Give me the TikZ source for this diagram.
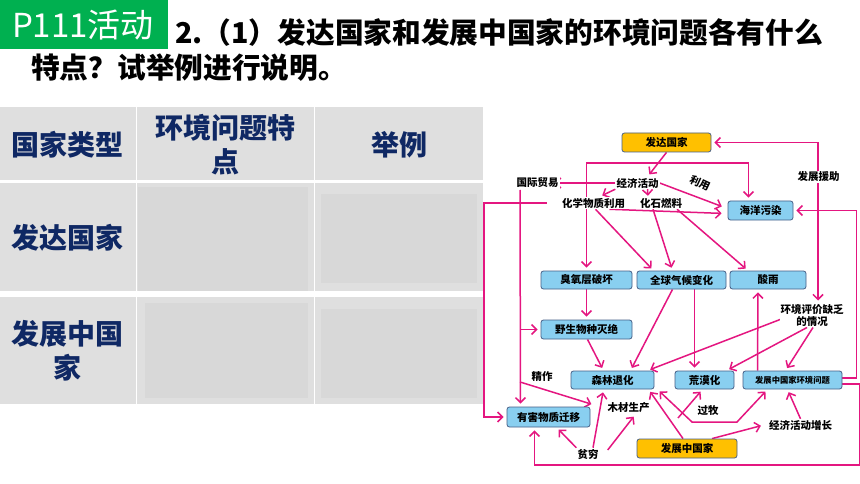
\documentclass[tikz,border=0pt]{standalone}
\usepackage{fontspec}
\setmainfont{Noto Sans CJK SC}
\newfontfamily\cjk{Noto Sans CJK SC}
\usetikzlibrary{arrows.meta,backgrounds}
\definecolor{hdrgreen}{RGB}{0,176,80}
\definecolor{cellgray}{RGB}{223,223,223}
\definecolor{innergray}{RGB}{216,216,216}
\definecolor{navy}{RGB}{15,40,100}
\definecolor{pinkc}{RGB}{228,22,128}
\definecolor{boxblue}{RGB}{137,207,240}
\definecolor{boxline}{RGB}{70,95,135}
\definecolor{orangec}{RGB}{255,192,0}
\newcommand{\dgfont}{\cjk\bfseries\fontsize{10.5}{11.5}\selectfont}
\begin{document}
\begin{tikzpicture}[x=1pt,y=-1pt,
  box/.style={draw=boxline, fill=boxblue, rounded corners=2.5pt, line width=0.8pt, font=\dgfont, inner sep=0pt},
  obox/.style={box, fill=orangec},
  lbl/.style={font=\dgfont, inner sep=1pt, fill=white},
  con/.style={draw=pinkc, line width=1.5pt, shorten >=3pt, -{Straight Barb[length=5pt,width=10pt]}},
  con2/.style={draw=pinkc, line width=1.5pt, shorten >=3pt, shorten <=3pt, {Straight Barb[length=5pt,width=10pt]}-{Straight Barb[length=5pt,width=10pt]}},
  tt/.style={font=\cjk\bfseries\fontsize{28}{34}\selectfont, text=navy, inner sep=0pt, align=center}
]
\path[use as bounding box] (0,0) rectangle (860,484);

\begin{pgfonlayer}{background}
\fill[white] (0,0) rectangle (860,484);
% header
\fill[hdrgreen] (0,0) rectangle (168,49);
% table
\fill[cellgray] (0,107) rectangle (136,180);
\fill[cellgray] (137,107) rectangle (314,180);
\fill[cellgray] (315,107) rectangle (483,180);
\fill[cellgray] (0,183) rectangle (136,291);
\fill[cellgray] (137,183) rectangle (314,291);
\fill[cellgray] (315,183) rectangle (483,291);
\fill[cellgray] (0,297) rectangle (136,404);
\fill[cellgray] (137,297) rectangle (314,404);
\fill[cellgray] (315,297) rectangle (483,404);
\fill[innergray] (138,187) rectangle (308,291);
\fill[innergray] (321,194) rectangle (477,283);
\fill[innergray] (145,303) rectangle (308,398);
\fill[innergray] (321,309) rectangle (477,398);
\end{pgfonlayer}

\node[font=\cjk\fontsize{33}{36}\selectfont, text=white, inner sep=0pt] (p111) at (83,25) {P111活动};
\node[anchor=west, font=\cjk\bfseries\fontsize{28.7}{34}\selectfont, inner sep=0pt] (q1) at (175,33) {2.（1）发达国家和发展中国家的环境问题各有什么};
\node[anchor=west, font=\cjk\bfseries\fontsize{28.7}{34}\selectfont, inner sep=0pt] (q2) at (31,68) {特点？试举例进行说明。};

\node[tt] (t11) at (68,145) {国家类型};
\node[tt] (t12) at (225.5,145) {环境问题特\\点};
\node[tt] (t13) at (399,145) {举例};
\node[tt] (t21) at (68,237.5) {发达国家};
\node[tt] (t31) at (68,351) {发展中国\\家};

% diagram nodes
\node[obox, minimum width=89pt, minimum height=19pt] (dc) at (666.5,142.5) {发达国家};
\node[box, minimum width=65pt, minimum height=19pt] (hy) at (760.5,210.5) {海洋污染};
\node[lbl] (jj) at (637.5,183) {经济活动};
\node[lbl] (gm) at (537.5,183) {国际贸易};
\node[lbl] (hx) at (593.5,203) {化学物质利用};
\node[lbl] (hs) at (661,203) {化石燃料};
\node[lbl, fill=none, inner sep=0pt, rotate=-25] (ly) at (700,183) {利用};
\node[lbl] (fy) at (818.5,177) {发展援助};
\node[box, minimum width=91pt, minimum height=18pt] (cy) at (586.5,280) {臭氧层破坏};
\node[box, minimum width=89pt, minimum height=18pt] (qq) at (681.5,280) {全球气候变化};
\node[box, minimum width=76pt, minimum height=18pt] (sy) at (768,280) {酸雨};
\node[box, minimum width=91pt, minimum height=19pt] (ys) at (586.5,329.5) {野生物种灭绝};
\node[lbl, align=center] (hp) at (812,315.5) {环境评价缺乏\\的情况};
\node[box, minimum width=83pt, minimum height=18pt] (sl) at (612.5,380) {森林退化};
\node[box, minimum width=59pt, minimum height=18pt] (hm) at (704.5,380) {荒漠化};
\node[box, minimum width=99pt, minimum height=18pt, font=\cjk\bfseries\fontsize{8.3}{9}\selectfont] (fw) at (792.5,380) {发展中国家环境问题};
\node[lbl, fill=none] (jz) at (542,377) {精作};
\node[box, minimum width=83pt, minimum height=20pt] (yh) at (548.5,417) {有害物质迁移};
\node[lbl] (mc) at (628.5,408) {木材生产};
\node[lbl] (gmu) at (708,411) {过牧};
\node[lbl] (zz) at (800.5,425) {经济活动增长};
\node[lbl] (pq) at (588,454) {贫穷};
\node[obox, minimum width=100pt, minimum height=19pt] (fz) at (687,448.5) {发展中国家};

% helper coordinates
\coordinate (top) at (587,163);
\coordinate (lx) at (484,203);
\coordinate (gv) at (520,190);
\coordinate (b2) at (520,382);
\coordinate (gp) at (678,418);
\coordinate (k1) at (692,422);
\coordinate (k2) at (737,422);

\begin{pgfonlayer}{background}
\draw[con] (dc.south) -- ([xshift=10pt]jj.north);
\draw[con] (jj.west) -- ([xshift=-8pt]gm.east);
\draw[con2] (cy.north) -- (cy.north |- top) -| ([xshift=-12pt]hy.north);
\draw[con] (jj.south west) -- ([xshift=6pt]hx.north);
\draw[con, shorten >=1pt] ([xshift=10pt]jj.south) -- ([xshift=-13pt]hs.north);
\draw[con] (jj.east) -- ([xshift=-3pt,yshift=3pt]hy.west);
\draw[con] ([xshift=16pt]hx.south) -- ([xshift=-3pt,yshift=-3pt]hy.west);
\draw[con] ([xshift=-14pt]hx.west) -- (lx) |- (yh.west);
\draw[con] (gv) -- ([xshift=-28pt]yh.north);
\draw[con] (gv |- ys.west) -- (ys.west);
\draw[con] (b2) -- ([xshift=-12pt,yshift=3pt]mc.west);
\draw[con] ([xshift=2pt]hx.south) -- ([xshift=-28pt]qq.north);
\draw[con] ([xshift=-8pt]hs.south) -- ([xshift=-9pt]qq.north);
\draw[con] ([xshift=16pt]hs.south) -- ([xshift=-20pt]sy.north);
\draw[con2] ([xshift=6pt]hp.north) |- (dc.east);
\draw[con] ([yshift=2pt]fw.east) -- ++(14,0) |- (hy.east);
\draw[con] ([yshift=-4pt]fw.east) -- ++(17,0) -- ++(0,81) -| ([xshift=-14pt]yh.south);
\draw[con] ([xshift=-9pt]qq.south) -- ([xshift=18pt]sl.north);
\draw[con] ([xshift=13pt]qq.south) -- ([xshift=-10pt]hm.north);
\draw[con] (cy.south) -- (ys.north);
\draw[con] ([xshift=1pt]ys.south) -- ([xshift=-9pt]sl.north);
\draw[con] ([xshift=6pt,yshift=-2pt]hp.west) -- ([xshift=-7pt]sl.north east);
\draw[con] ([xshift=-5pt]hp.south) -- ([xshift=22pt]hm.north);
\draw[con] ([xshift=1pt]hp.south) -- ([xshift=-7pt]fw.north);
\draw[con] ([xshift=-35pt]fw.north) -- ([xshift=-10pt]sy.south);
\draw[con] (pq.north west) -- ([xshift=8pt]yh.south);
\draw[con] ([xshift=5pt]pq.north) -- ([xshift=-9pt]sl.south);
\draw[con] ([xshift=8pt,yshift=4pt]pq.east) -- ([xshift=7pt]mc.south);
\draw[con] ([xshift=-4pt]fz.north) -- ([xshift=36pt]sl.south);
\draw[con] ([xshift=25pt]fz.north) -- ([xshift=-4pt]zz.west);
\draw[con] (gp) -- ([xshift=-2pt]hm.south);
\draw[con2] ([xshift=3pt]sl.south east) -- (k1) -- (k2) -- ([xshift=-25pt]fw.south);
\draw[con] (zz.north) -- ([xshift=-5pt]fw.south);
\end{pgfonlayer}
\end{tikzpicture}
\end{document}
